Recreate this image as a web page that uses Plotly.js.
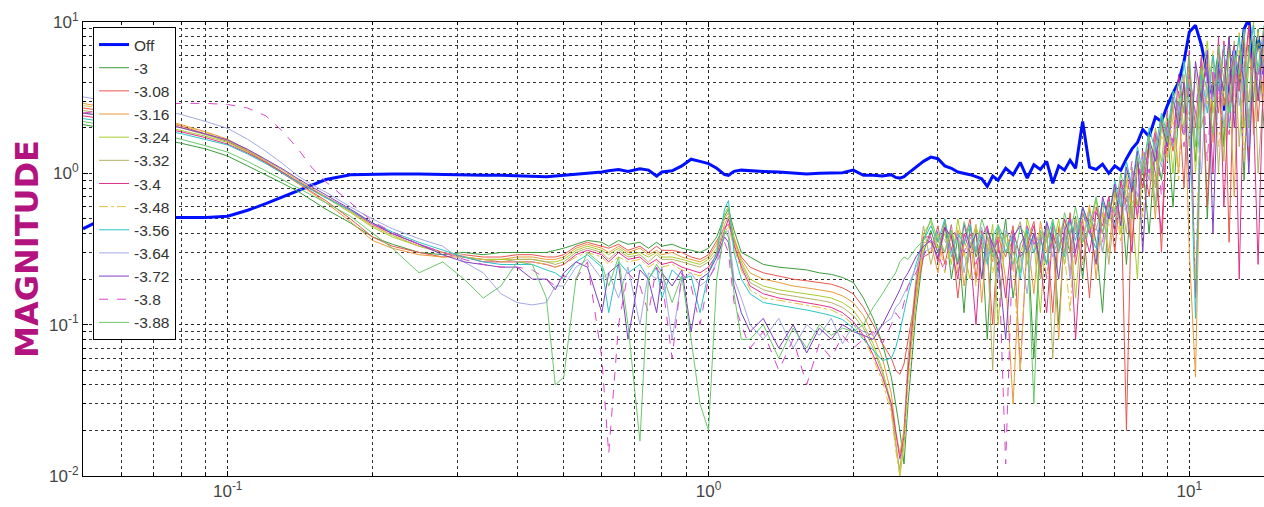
<!DOCTYPE html>
<html>
<head>
<meta charset="utf-8">
<script src="https://cdn.plot.ly/plotly-3.0.1.min.js"></script>
<style>html,body{margin:0;padding:0;background:#fff;}#chart{width:1264px;height:507px;}</style>
</head>
<body>
<div id="chart"></div>
<script>
// Frequency grid (shared by all series)
const freq = [0.05, 0.055, 0.06, 0.065, 0.07, 0.075, 0.08, 0.09, 0.1, 0.11, 0.12, 0.13, 0.14, 0.15, 0.16, 0.18, 0.2, 0.22, 0.25, 0.28, 0.31, 0.34, 0.37, 0.4,
  0.43, 0.46, 0.48, 0.5, 0.53, 0.56, 0.6, 0.62, 0.65, 0.68, 0.72, 0.75, 0.78, 0.8, 0.84, 0.88, 0.92, 0.96, 1.0, 1.04, 1.08, 1.1, 1.13, 1.17,
  1.22, 1.3, 1.4, 1.5, 1.6, 1.7, 1.8, 1.9, 2.0, 2.1, 2.2, 2.3, 2.4, 2.45, 2.5, 2.55, 2.6, 2.7, 2.8,
  2.9, 3.0, 3.1, 3.2, 3.3, 3.4, 3.5, 3.6, 3.7, 3.8, 3.9, 4.0, 4.15, 4.3, 4.45, 4.6, 4.75, 4.9, 5.05, 5.2, 5.35, 5.5, 5.65, 5.8,
  6.0, 6.2, 6.4, 6.6, 6.8, 7.0, 7.2, 7.4, 7.6, 7.8, 8.0, 8.25, 8.5, 8.75, 9.0, 9.25, 9.5, 9.75,
  10, 10.3, 10.6, 10.9, 11.2, 11.5, 11.8, 12.1, 12.4, 12.7, 13.0, 13.3, 13.6, 13.9, 14.3];

const magOff = [0.43, 0.5, 0.51, 0.51, 0.51, 0.51, 0.51, 0.51, 0.52, 0.57, 0.63, 0.7, 0.77, 0.84, 0.91, 0.98, 0.99, 0.99, 0.99, 0.98, 0.98, 0.97, 0.97, 0.96,
  0.96, 0.95, 0.96, 0.97, 0.99, 1.0, 1.02, 1.04, 1.06, 1.03, 1.07, 1.05, 0.96, 1.02, 1.04, 1.12, 1.24, 1.2, 1.16, 1.08, 0.98, 0.97, 1.03, 1.05,
  1.04, 1.03, 1.02, 1.0, 0.99, 1.0, 1.0, 1.01, 1.05, 0.97, 0.97, 0.96, 0.98, 0.94, 0.93, 0.95, 1.0, 1.1, 1.2,
  1.28, 1.25, 1.12, 1.08, 1.02, 1.0, 0.98, 0.95, 0.92, 0.82, 0.96, 0.9, 1.08, 0.98, 1.18, 0.93, 1.14, 1.06, 1.2, 0.86,
  1.12, 1.05, 1.22, 1.08, 2.2, 1.1, 1.06, 1.15, 1.0, 1.12, 1.05, 1.25, 1.45, 1.6, 1.95, 1.75, 2.35, 2.2, 2.8, 3.4,
  4.0, 5.5, 8.6, 9.5, 7.0, 4.5, 3.2, 5.5, 2.6, 4.0, 6.5, 3.5, 9.0, 10.5, 5.0, 8.0, 4.5];

const mag300 = [2.1, 2.0, 1.9, 1.8, 1.72, 1.65, 1.58, 1.45, 1.3, 1.12, 0.98, 0.86, 0.76, 0.66, 0.58, 0.47, 0.38, 0.34, 0.3, 0.29, 0.3, 0.29, 0.3, 0.3,
  0.3, 0.3, 0.31, 0.32, 0.34, 0.36, 0.35, 0.33, 0.36, 0.34, 0.35, 0.32, 0.35, 0.33, 0.34, 0.32, 0.31, 0.3, 0.32, 0.38, 0.52, 0.58, 0.42, 0.3,
  0.28, 0.25, 0.24, 0.235, 0.23, 0.22, 0.215, 0.205, 0.19, 0.15, 0.11, 0.075, 0.045, 0.03, 0.02, 0.012, 0.03, 0.12, 0.3,
  0.42, 0.3, 0.48, 0.2, 0.38, 0.12, 0.45, 0.28, 0.36, 0.08, 0.4, 0.22, 0.5, 0.15, 0.34, 0.42, 0.06, 0.38, 0.25, 0.46,
  0.1, 0.4, 0.3, 0.52, 0.2, 0.58, 0.35, 0.12, 0.62, 0.45, 0.8, 0.25, 0.9, 0.6, 1.1, 0.4, 1.5, 0.9, 2.0, 0.6,
  2.6, 1.8, 4.0, 1.2, 5.5, 0.5, 3.8, 6.5, 1.5, 8.0, 2.5, 5.0, 0.9, 7.0, 3.0, 9.0, 2.0];

const mag308 = [2.7, 2.6, 2.5, 2.38, 2.25, 2.15, 2.05, 1.82, 1.62, 1.4, 1.18, 1.0, 0.86, 0.75, 0.66, 0.5, 0.38, 0.33, 0.3, 0.28, 0.29, 0.28, 0.28, 0.29,
  0.29, 0.28, 0.28, 0.29, 0.33, 0.35, 0.33, 0.32, 0.34, 0.31, 0.33, 0.3, 0.33, 0.31, 0.31, 0.3, 0.28, 0.27, 0.29, 0.36, 0.44, 0.46, 0.36, 0.28,
  0.24, 0.22, 0.21, 0.2, 0.195, 0.19, 0.185, 0.175, 0.16, 0.13, 0.1, 0.075, 0.06, 0.05, 0.047, 0.055, 0.08, 0.16, 0.28,
  0.3, 0.45, 0.25, 0.4, 0.15, 0.35, 0.5, 0.2, 0.42, 0.3, 0.1, 0.38, 0.28, 0.45, 0.05, 0.35, 0.48, 0.22, 0.4, 0.12,
  0.44, 0.3, 0.55, 0.25, 0.5, 0.15, 0.6, 0.4, 0.7, 0.3, 0.85, 0.02, 0.95, 0.5, 1.3, 0.7, 1.8, 0.3, 2.2, 1.4,
  3.0, 0.8, 5.0, 2.0, 6.0, 0.6, 4.5, 2.5, 7.5, 0.35, 5.5, 3.5, 8.5, 1.2, 6.0, 2.2, 8.0];

const mag316 = [2.9, 2.75, 2.6, 2.5, 2.35, 2.22, 2.1, 1.88, 1.68, 1.42, 1.2, 1.02, 0.86, 0.74, 0.64, 0.48, 0.36, 0.32, 0.29, 0.28, 0.28, 0.27, 0.27, 0.28,
  0.28, 0.27, 0.27, 0.28, 0.32, 0.34, 0.32, 0.3, 0.33, 0.3, 0.32, 0.29, 0.31, 0.29, 0.3, 0.28, 0.27, 0.26, 0.28, 0.34, 0.5, 0.55, 0.38, 0.27,
  0.22, 0.2, 0.19, 0.18, 0.175, 0.17, 0.165, 0.155, 0.14, 0.115, 0.085, 0.06, 0.035, 0.02, 0.014, 0.02, 0.05, 0.14, 0.35,
  0.35, 0.22, 0.5, 0.3, 0.42, 0.18, 0.32, 0.46, 0.14, 0.38, 0.26, 0.44, 0.2, 0.03, 0.3, 0.4, 0.16, 0.48, 0.3, 0.38,
  0.08, 0.45, 0.22, 0.5, 0.35, 0.62, 0.2, 0.55, 0.3, 0.75, 0.5, 0.9, 0.35, 1.2, 0.8, 1.6, 0.5, 2.2, 1.3, 2.8,
  1.0, 4.5, 0.3, 0.045, 3.5, 5.5, 1.6, 7.0, 2.8, 4.5, 0.7, 6.5, 3.0, 9.5, 1.8, 5.0, 3.5];

const mag324 = [2.5, 2.4, 2.3, 2.2, 2.1, 2.0, 1.92, 1.76, 1.6, 1.38, 1.18, 1.02, 0.88, 0.78, 0.69, 0.55, 0.44, 0.38, 0.33, 0.3, 0.28, 0.27, 0.27, 0.27,
  0.27, 0.26, 0.26, 0.27, 0.31, 0.33, 0.31, 0.29, 0.32, 0.29, 0.3, 0.28, 0.3, 0.28, 0.28, 0.27, 0.26, 0.25, 0.27, 0.32, 0.55, 0.6, 0.36, 0.26,
  0.2, 0.18, 0.17, 0.165, 0.16, 0.155, 0.15, 0.14, 0.125, 0.1, 0.075, 0.05, 0.03, 0.018, 0.01, 0.016, 0.045, 0.16, 0.4,
  0.48, 0.32, 0.4, 0.25, 0.5, 0.3, 0.2, 0.44, 0.35, 0.28, 0.46, 0.1, 0.4, 0.3, 0.22, 0.5, 0.35, 0.12, 0.45, 0.32,
  0.5, 0.25, 0.42, 0.15, 0.55, 0.4, 0.68, 0.3, 0.5, 0.8, 0.4, 1.0, 0.6, 0.2, 1.4, 0.9, 2.0, 1.2, 2.6, 1.0,
  3.5, 2.0, 5.5, 1.0, 4.0, 7.5, 2.5, 5.0, 1.2, 6.5, 4.0, 8.5, 2.0, 6.0, 10.0, 3.0, 7.0];

const mag332 = [2.6, 2.5, 2.4, 2.3, 2.2, 2.1, 2.0, 1.8, 1.64, 1.42, 1.22, 1.05, 0.9, 0.79, 0.7, 0.56, 0.45, 0.39, 0.33, 0.3, 0.28, 0.27, 0.26, 0.27,
  0.27, 0.26, 0.25, 0.26, 0.3, 0.32, 0.3, 0.27, 0.31, 0.28, 0.29, 0.26, 0.29, 0.27, 0.27, 0.26, 0.25, 0.24, 0.26, 0.3, 0.46, 0.52, 0.33, 0.25,
  0.19, 0.17, 0.16, 0.155, 0.15, 0.145, 0.14, 0.13, 0.115, 0.095, 0.07, 0.048, 0.028, 0.016, 0.011, 0.02, 0.06, 0.2, 0.45,
  0.25, 0.4, 0.3, 0.46, 0.22, 0.36, 0.28, 0.42, 0.2, 0.34, 0.05, 0.42, 0.3, 0.36, 0.48, 0.25, 0.4, 0.2, 0.45, 0.06,
  0.38, 0.5, 0.3, 0.44, 0.25, 0.5, 0.42, 0.65, 0.25, 0.6, 0.7, 0.4, 1.1, 0.6, 1.2, 1.5, 0.8, 2.0, 1.5, 3.0,
  2.2, 3.8, 1.5, 4.8, 2.0, 3.5, 6.0, 1.0, 4.5, 2.5, 7.5, 1.5, 5.5, 3.0, 8.0, 1.0, 4.0];

const mag340 = [2.4, 2.3, 2.2, 2.12, 2.04, 1.96, 1.88, 1.72, 1.56, 1.36, 1.18, 1.02, 0.88, 0.78, 0.7, 0.57, 0.46, 0.4, 0.34, 0.3, 0.28, 0.26, 0.26, 0.26,
  0.26, 0.25, 0.24, 0.25, 0.29, 0.31, 0.29, 0.26, 0.3, 0.27, 0.28, 0.25, 0.27, 0.25, 0.26, 0.24, 0.23, 0.22, 0.24, 0.29, 0.42, 0.5, 0.34, 0.24,
  0.18, 0.16, 0.15, 0.145, 0.14, 0.135, 0.13, 0.12, 0.105, 0.085, 0.063, 0.045, 0.03, 0.02, 0.013, 0.018, 0.05, 0.18, 0.38,
  0.38, 0.26, 0.44, 0.32, 0.2, 0.4, 0.3, 0.1, 0.38, 0.45, 0.3, 0.36, 0.15, 0.42, 0.28, 0.33, 0.45, 0.25, 0.12, 0.4,
  0.3, 0.5, 0.38, 0.08, 0.45, 0.3, 0.55, 0.45, 0.7, 0.4, 0.9, 0.6, 0.3, 1.2, 0.8, 1.6, 1.0, 0.4, 2.2, 1.5,
  4.5, 2.5, 6.5, 0.15, 3.5, 5.0, 1.0, 8.0, 0.6, 3.5, 7.0, 0.2, 4.5, 9.5, 2.5, 0.25, 6.0];

const mag348 = [2.8, 2.7, 2.58, 2.45, 2.32, 2.2, 2.08, 1.86, 1.66, 1.44, 1.24, 1.06, 0.9, 0.79, 0.7, 0.56, 0.45, 0.39, 0.33, 0.3, 0.28, 0.27, 0.26, 0.26,
  0.26, 0.25, 0.24, 0.25, 0.28, 0.3, 0.28, 0.25, 0.28, 0.26, 0.27, 0.24, 0.26, 0.24, 0.25, 0.23, 0.22, 0.21, 0.23, 0.28, 0.4, 0.45, 0.32, 0.23,
  0.17, 0.15, 0.145, 0.14, 0.135, 0.13, 0.125, 0.115, 0.1, 0.082, 0.06, 0.042, 0.026, 0.015, 0.01, 0.017, 0.04, 0.15, 0.33,
  0.3, 0.4, 0.22, 0.36, 0.44, 0.28, 0.38, 0.18, 0.34, 0.42, 0.22, 0.3, 0.4, 0.26, 0.05, 0.38, 0.3, 0.44, 0.2, 0.35,
  0.45, 0.3, 0.12, 0.5, 0.38, 0.6, 0.28, 0.55, 0.45, 0.7, 0.35, 0.85, 0.6, 1.1, 0.5, 1.4, 0.9, 1.8, 1.2, 2.4,
  0.9, 4.0, 2.2, 0.2, 5.0, 2.8, 6.5, 1.5, 4.0, 7.5, 2.5, 5.5, 1.2, 6.5, 3.5, 8.5, 2.8];

const mag356 = [2.3, 2.2, 2.12, 2.05, 1.98, 1.9, 1.83, 1.68, 1.54, 1.34, 1.16, 1.0, 0.87, 0.77, 0.69, 0.57, 0.47, 0.41, 0.35, 0.31, 0.28, 0.26, 0.25, 0.25,
  0.25, 0.23, 0.22, 0.2, 0.26, 0.29, 0.24, 0.12, 0.26, 0.22, 0.25, 0.2, 0.24, 0.15, 0.23, 0.2, 0.21, 0.12, 0.22, 0.3, 0.58, 0.66, 0.3, 0.2,
  0.16, 0.14, 0.135, 0.13, 0.125, 0.12, 0.115, 0.108, 0.095, 0.08, 0.068, 0.058, 0.06, 0.07, 0.09, 0.12, 0.16, 0.25, 0.36,
  0.45, 0.35, 0.5, 0.28, 0.4, 0.34, 0.46, 0.3, 0.4, 0.25, 0.38, 0.45, 0.3, 0.4, 0.2, 0.44, 0.3, 0.38, 0.25, 0.48,
  0.35, 0.28, 0.5, 0.36, 0.6, 0.4, 0.32, 0.65, 0.5, 0.9, 0.6, 1.2, 0.8, 1.5, 1.0, 2.0, 1.4, 2.5, 1.8, 3.5,
  2.5, 5.5, 3.0, 0.11, 4.5, 2.5, 6.0, 3.5, 7.0, 2.0, 5.0, 8.0, 3.5, 6.0, 9.5, 4.5, 7.5];

const mag364 = [3.2, 3.05, 2.9, 2.8, 2.68, 2.56, 2.45, 2.2, 1.98, 1.68, 1.4, 1.16, 0.96, 0.84, 0.75, 0.6, 0.5, 0.43, 0.37, 0.33, 0.26, 0.22, 0.16, 0.14,
  0.135, 0.14, 0.18, 0.18, 0.24, 0.27, 0.2, 0.22, 0.15, 0.24, 0.1, 0.22, 0.2, 0.24, 0.08, 0.2, 0.22, 0.18, 0.2, 0.26, 0.4, 0.42, 0.2, 0.15,
  0.1, 0.08, 0.11, 0.07, 0.1, 0.085, 0.11, 0.075, 0.1, 0.09, 0.085, 0.1, 0.11, 0.13, 0.14, 0.16, 0.18, 0.24, 0.3,
  0.32, 0.42, 0.36, 0.3, 0.4, 0.22, 0.38, 0.32, 0.44, 0.28, 0.36, 0.2, 0.42, 0.35, 0.3, 0.16, 0.4, 0.34, 0.46, 0.28,
  0.38, 0.44, 0.2, 0.48, 0.36, 0.55, 0.45, 0.3, 0.6, 0.45, 0.8, 0.55, 1.0, 0.7, 1.3, 0.9, 1.6, 1.1, 2.0, 1.5,
  2.8, 1.8, 4.0, 2.5, 1.0, 5.0, 3.0, 6.0, 2.0, 4.5, 6.5, 2.8, 5.0, 1.5, 7.0, 3.5, 5.5];

const mag372 = [2.5, 2.42, 2.34, 2.26, 2.17, 2.08, 2.0, 1.82, 1.66, 1.44, 1.24, 1.07, 0.92, 0.81, 0.72, 0.58, 0.47, 0.4, 0.34, 0.29, 0.26, 0.25, 0.24, 0.24,
  0.2, 0.2, 0.17, 0.22, 0.26, 0.24, 0.12, 0.22, 0.25, 0.08, 0.23, 0.2, 0.12, 0.22, 0.18, 0.23, 0.09, 0.2, 0.22, 0.28, 0.38, 0.35, 0.18, 0.12,
  0.09, 0.11, 0.07, 0.1, 0.065, 0.095, 0.08, 0.1, 0.09, 0.085, 0.08, 0.1, 0.13, 0.15, 0.17, 0.2, 0.22, 0.28, 0.33,
  0.36, 0.28, 0.44, 0.38, 0.25, 0.46, 0.32, 0.4, 0.2, 0.42, 0.34, 0.28, 0.08, 0.38, 0.45, 0.3, 0.4, 0.25, 0.48, 0.35,
  0.2, 0.42, 0.5, 0.3, 0.6, 0.45, 0.25, 0.7, 0.5, 0.85, 0.45, 1.1, 0.75, 1.4, 0.3, 1.7, 1.2, 2.2, 1.5, 3.2,
  2.0, 4.0, 0.8, 5.5, 3.0, 6.5, 0.4, 5.0, 3.5, 8.0, 2.0, 6.0, 4.0, 1.0, 6.5, 3.0, 9.0];

const mag380 = [2.5, 2.6, 2.7, 2.8, 2.85, 2.88, 2.9, 2.9, 2.85, 2.7, 2.4, 1.9, 1.45, 1.08, 0.88, 0.64, 0.48, 0.41, 0.34, 0.3, 0.27, 0.25, 0.24, 0.24,
  0.23, 0.2, 0.18, 0.21, 0.2, 0.26, 0.06, 0.014, 0.1, 0.22, 0.18, 0.12, 0.24, 0.2, 0.06, 0.22, 0.18, 0.1, 0.2, 0.25, 0.35, 0.3, 0.14, 0.1,
  0.07, 0.09, 0.05, 0.08, 0.04, 0.075, 0.06, 0.085, 0.07, 0.08, 0.09, 0.075, 0.1, 0.12, 0.11, 0.14, 0.18, 0.22, 0.28,
  0.4, 0.3, 0.22, 0.46, 0.36, 0.3, 0.4, 0.25, 0.36, 0.44, 0.3, 0.38, 0.012, 0.4, 0.28, 0.45, 0.34, 0.4, 0.2, 0.44,
  0.32, 0.4, 0.5, 0.28, 0.55, 0.4, 0.62, 0.35, 0.7, 0.5, 0.9, 0.65, 1.2, 0.5, 1.5, 1.0, 2.0, 0.7, 2.6, 1.6,
  3.5, 1.5, 4.5, 2.5, 6.0, 1.2, 5.0, 3.0, 7.5, 1.8, 5.5, 3.5, 8.0, 2.0, 6.0, 4.0, 8.5];

const mag388 = [2.2, 2.1, 2.0, 1.92, 1.84, 1.76, 1.68, 1.52, 1.38, 1.2, 1.04, 0.9, 0.8, 0.72, 0.64, 0.52, 0.4, 0.32, 0.22, 0.26, 0.2, 0.15, 0.18, 0.26,
  0.25, 0.15, 0.04, 0.045, 0.2, 0.3, 0.25, 0.18, 0.28, 0.1, 0.017, 0.2, 0.25, 0.22, 0.14, 0.21, 0.08, 0.03, 0.02, 0.2, 0.42, 0.38, 0.16, 0.08,
  0.08, 0.1, 0.06, 0.095, 0.07, 0.1, 0.085, 0.095, 0.09, 0.1, 0.13, 0.16, 0.2, 0.22, 0.26, 0.28, 0.27, 0.32, 0.36,
  0.5, 0.36, 0.3, 0.42, 0.26, 0.48, 0.35, 0.3, 0.5, 0.38, 0.28, 0.46, 0.35, 0.25, 0.44, 0.38, 0.03, 0.42, 0.35, 0.5,
  0.3, 0.55, 0.4, 0.6, 0.35, 0.45, 0.7, 0.4, 0.65, 0.55, 1.0, 0.7, 0.5, 1.3, 1.0, 1.8, 0.6, 2.4, 1.6, 3.0,
  4.0, 2.5, 6.0, 1.5, 5.0, 3.5, 1.8, 7.0, 4.0, 2.5, 6.0, 4.5, 9.0, 2.0, 7.0, 5.0, 9.5];

const seriesNames = ['Off', '-3', '-3.08', '-3.16', '-3.24', '-3.32', '-3.4', '-3.48', '-3.56', '-3.64', '-3.72', '-3.8', '-3.88'];
const seriesValues = [magOff, mag300, mag308, mag316, mag324, mag332, mag340, mag348, mag356, mag364, mag372, mag380, mag388];
const seriesColors = ['#0010ff', '#3c9c3c', '#e8564e', '#e89a3c', '#a8cc2c', '#b4b068', '#e0308c', '#e0c040', '#2cc4c4', '#a4a8e4', '#8040c4', '#d848c8', '#6cc86c'];
const seriesDash = ['solid', 'solid', 'solid', 'solid', 'solid', 'solid', 'solid', 'dashdot', 'solid', 'solid', 'solid', 'dash', 'solid'];
const seriesWidth = [3, 1, 1, 1, 1, 1, 1, 1, 1, 1, 1, 1, 1];

// Decade ticks (labelled) and in-between grid positions
const xTickVals = [0.1, 1, 10];
const xTickText = ['10<sup>-1</sup>', '10<sup>0</sup>', '10<sup>1</sup>'];
const xGridVals = [0.06, 0.07, 0.08, 0.09, 0.2, 0.3, 0.4, 0.5, 0.6, 0.7, 0.8, 0.9, 2, 3, 4, 5, 6, 7, 8, 9];
const yTickVals = [0.01, 0.1, 1, 10];
const yTickText = ['10<sup>-2</sup>', '10<sup>-1</sup>', '10<sup>0</sup>', '10<sup>1</sup>'];
const yGridVals = [0.02, 0.03, 0.04, 0.05, 0.06, 0.07, 0.08, 0.09, 0.2, 0.3, 0.4, 0.5, 0.6, 0.7, 0.8, 0.9, 2, 3, 4, 5, 6, 7, 8, 9];

const tickFontFamily = '"Liberation Sans Narrow", "Arial Narrow", "Liberation Sans", Arial, sans-serif';

const traces = seriesNames.map((n, i) => ({
  type: 'scatter', mode: 'lines', name: n,
  x: freq, y: seriesValues[i],
  line: {color: seriesColors[i], width: seriesWidth[i], dash: seriesDash[i]},
  hoverinfo: 'skip'
}));

const axisCommon = {
  type: 'log', tickmode: 'array', showgrid: true, gridcolor: '#222', gridwidth: 1, griddash: '3px,3px',
  ticks: 'inside', ticklen: 5, tickcolor: '#000', showline: true, linecolor: '#000', linewidth: 1,
  mirror: 'ticks', zeroline: false, tickfont: {family: tickFontFamily, size: 17, color: '#444'}
};
function minorGrid(vals) {
  return {tickmode: 'array', tickvals: vals, showgrid: true, gridcolor: '#333', gridwidth: 1, griddash: '3px,3px',
          ticks: 'inside', ticklen: 3, tickcolor: '#000'};
}

const layout = {
  width: 1264, height: 507,
  margin: {l: 83, r: 0, t: 22, b: 31},
  paper_bgcolor: '#fff', plot_bgcolor: '#fff',
  showlegend: true,
  xaxis: Object.assign({}, axisCommon, {
    range: [Math.log10(0.05), Math.log10(14.3)], tickvals: xTickVals, ticktext: xTickText,
    minor: minorGrid(xGridVals)
  }),
  yaxis: Object.assign({}, axisCommon, {
    range: [-2, 1], tickvals: yTickVals, ticktext: yTickText,
    minor: minorGrid(yGridVals),
    title: {text: 'MAGNITUDE', standoff: 0, font: {family: '"DejaVu Sans", sans-serif', size: 32, weight: 'bold', color: '#b3137e'}}
  }),
  legend: {
    x: 0.0085, y: 0.989, xanchor: 'left', yanchor: 'top',
    bgcolor: '#fff', bordercolor: '#000', borderwidth: 1,
    font: {family: tickFontFamily, size: 15.5, color: '#333'}
  }
};

Plotly.newPlot('chart', traces, layout, {displayModeBar: false, staticPlot: true});
</script>
</body>
</html>
